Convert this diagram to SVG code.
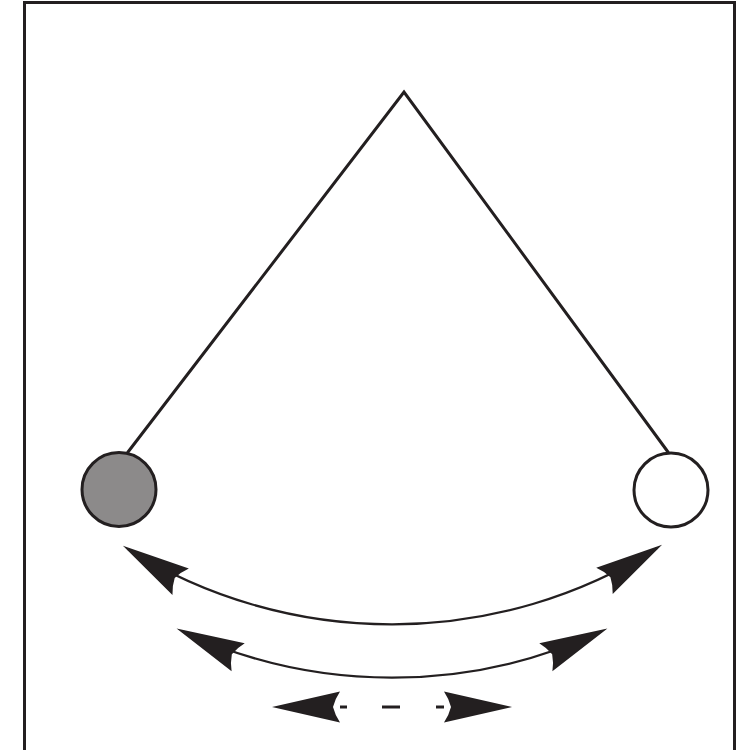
<svg xmlns="http://www.w3.org/2000/svg" xmlns:xlink="http://www.w3.org/1999/xlink" width="751" height="750" viewBox="0 0 751 750">
  <style>
    .frame { fill: none; stroke: #231f20; stroke-width: 3; }
    .rod { fill: none; stroke: #231f20; stroke-width: 3; stroke-linecap: round; stroke-linejoin: miter; }
    .ball { stroke: #231f20; stroke-width: 3; }
    .arc { fill: none; stroke: #231f20; stroke-width: 2.2; }
    .dash { stroke: #231f20; stroke-width: 3; }
    .head { fill: #231f20; stroke: none; }
  </style>
  <defs>
    <path id="head" d="M0,0 L-68,-15.5 Q-63,-8 -61,0 Q-63,8 -68,15.5 Z"/>
    <marker id="arrow" markerUnits="userSpaceOnUse" orient="auto-start-reverse" refX="0" refY="0" markerWidth="100" markerHeight="100" overflow="visible">
      <use xlink:href="#head" class="head" transform="translate(6,0)"/>
    </marker>
  </defs>
  <rect class="frame" x="24.5" y="2.5" width="710" height="770"/>
  <g id="pendulum-rods">
    <polyline class="rod" points="128,452 404,92 668,452"/>
  </g>
  <g id="ball-left">
    <circle class="ball" cx="119" cy="489.5" r="37" fill="#8c8a8a"/>
  </g>
  <g id="ball-right">
    <circle class="ball" cx="671" cy="490" r="37" fill="#ffffff"/>
  </g>
  <g id="connectors">
    <path class="arc" d="M128,549 A499,499 0 0,0 657,548" marker-start="url(#arrow)" marker-end="url(#arrow)"/>
    <path class="arc" d="M182,631 A496,496 0 0,0 602,631" marker-start="url(#arrow)" marker-end="url(#arrow)"/>
    <g id="small-arrow">
      <line class="dash" x1="340" y1="707" x2="347" y2="707"/>
      <line class="dash" x1="382" y1="707" x2="400" y2="707"/>
      <line class="dash" x1="436" y1="707" x2="444" y2="707"/>
      <use xlink:href="#head" class="head" transform="translate(272,707) rotate(180)"/>
      <use xlink:href="#head" class="head" transform="translate(512,707)"/>
    </g>
  </g>
</svg>
